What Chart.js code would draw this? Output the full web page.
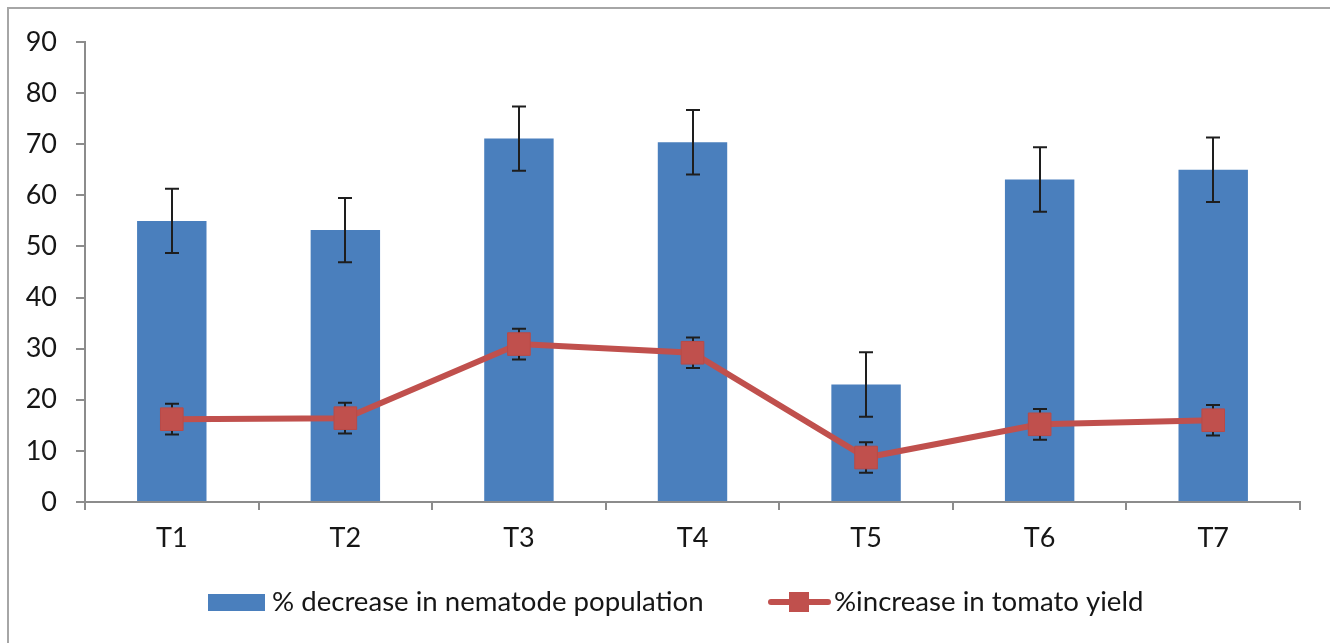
<!DOCTYPE html>
<html>
<head>
<meta charset="utf-8">
<script src="https://cdn.jsdelivr.net/npm/chart.js@4.4.1/dist/chart.umd.min.js"></script>
<style>
  html, body { margin: 0; padding: 0; background: #ffffff; }
  #wrap { position: relative; width: 1330px; height: 643px; }
</style>
</head>
<body>
<div id="wrap"><canvas id="c" width="1330" height="643"></canvas></div>
<script>
// ---- data ----
const categories = ['T1', 'T2', 'T3', 'T4', 'T5', 'T6', 'T7'];
const nematodeDecrease = [55.0, 53.2, 71.1, 70.4, 23.0, 63.1, 65.0];
const nematodeError = [6.3, 6.3, 6.3, 6.3, 6.3, 6.3, 6.3];
const yieldIncrease = [16.2, 16.4, 30.9, 29.2, 8.7, 15.2, 16.0];
const yieldError = [3.0, 3.0, 3.0, 3.0, 3.0, 3.0, 3.0];
const yTicks = [0, 10, 20, 30, 40, 50, 60, 70, 80, 90];
const seriesLabels = ['% decrease in nematode population', '%increase in tomato yield'];

const FONT = 'Lato, "Liberation Sans", sans-serif';
const AXIS_GREY = '#8C8C8C';
const BAR_BLUE = '#4A7FBD';
const LINE_RED = '#C0504D';
const TEXT = '#161616';

const errorBarPlugin = {
  id: 'errorBars',
  drawErrors(chart, dsIndex) {
    const ds = chart.data.datasets[dsIndex];
    if (!ds.errors) return;
    const meta = chart.getDatasetMeta(dsIndex);
    const y = chart.scales.y;
    const ctx = chart.ctx;
    ctx.save();
    ctx.strokeStyle = '#1E1E1E';
    ctx.lineWidth = 2;
    const cap = 7;
    meta.data.forEach((el, i) => {
      const v = ds.data[i], e = ds.errors[i];
      const x = Math.round(el.x);
      const yTop = y.getPixelForValue(v + e);
      const yBot = y.getPixelForValue(v - e);
      ctx.beginPath();
      ctx.moveTo(x, yTop); ctx.lineTo(x, yBot);
      ctx.moveTo(x - cap, yTop); ctx.lineTo(x + cap, yTop);
      ctx.moveTo(x - cap, yBot); ctx.lineTo(x + cap, yBot);
      ctx.stroke();
    });
    ctx.restore();
  },
  beforeDatasetDraw(chart, args) {
    if (chart.data.datasets[args.index].type === 'line') this.drawErrors(chart, args.index);
  },
  afterDatasetDraw(chart, args) {
    if (chart.data.datasets[args.index].type === 'bar') this.drawErrors(chart, args.index);
  }
};

const framePlugin = {
  id: 'frame',
  beforeDraw(chart) {
    const ctx = chart.ctx;
    ctx.save();
    ctx.fillStyle = '#ffffff';
    ctx.fillRect(0, 0, chart.width, chart.height);
    ctx.strokeStyle = '#A6A6A6';
    ctx.lineWidth = 2;
    ctx.strokeRect(8, 8, chart.width + 40, chart.height + 40);
    ctx.restore();
  }
};

const legendPlugin = {
  id: 'customLegend',
  afterDraw(chart) {
    const ctx = chart.ctx;
    const cy = 602;
    ctx.save();
    ctx.font = '27.6px ' + FONT;
    ctx.textBaseline = 'middle';
    ctx.textAlign = 'left';
    // bar series
    ctx.fillStyle = BAR_BLUE;
    ctx.fillRect(208, 594, 57, 17);
    ctx.fillStyle = TEXT;
    ctx.fillText(chart.data.datasets[1].label, 272, cy);
    // line series
    ctx.strokeStyle = LINE_RED;
    ctx.lineWidth = 6;
    ctx.lineCap = 'round';
    ctx.beginPath();
    ctx.moveTo(771, cy); ctx.lineTo(828, cy);
    ctx.stroke();
    ctx.fillStyle = LINE_RED;
    ctx.fillRect(789, 592, 20, 20);
    ctx.fillStyle = TEXT;
    ctx.fillText(chart.data.datasets[0].label, 834, cy);
    ctx.restore();
  }
};

new Chart(document.getElementById('c'), {
  data: {
    labels: categories,
    datasets: [
      {
        type: 'line',
        label: seriesLabels[1],
        data: yieldIncrease,
        errors: yieldError,
        borderColor: LINE_RED,
        backgroundColor: LINE_RED,
        borderWidth: 6,
        pointStyle: 'rect',
        pointRadius: 16,
        pointBackgroundColor: LINE_RED,
        pointBorderColor: '#B94A47',
        pointBorderWidth: 1,
        tension: 0,
        order: 0
      },
      {
        type: 'bar',
        label: seriesLabels[0],
        data: nematodeDecrease,
        errors: nematodeError,
        backgroundColor: BAR_BLUE,
        borderWidth: 0,
        categoryPercentage: 1.0,
        barPercentage: 0.4,
        order: 1
      }
    ]
  },
  options: {
    responsive: false,
    animation: false,
    events: [],
    layout: { padding: { left: 0, top: 42, right: 30, bottom: 0 } },
    plugins: {
      legend: { display: false },
      tooltip: { enabled: false },
      title: { display: false }
    },
    scales: {
      x: {
        afterFit(scale) { scale.height = 141; },
        grid: { drawOnChartArea: false, color: AXIS_GREY, lineWidth: 2, tickLength: 8, offset: true },
        border: { color: AXIS_GREY, width: 2 },
        ticks: { color: TEXT, font: { family: FONT, size: 27 }, padding: 12 }
      },
      y: {
        min: 0,
        max: 90,
        afterFit(scale) { scale.width = 85; },
        afterBuildTicks(scale) { scale.ticks = yTicks.map(v => ({ value: v })); },
        grid: { drawOnChartArea: false, color: AXIS_GREY, lineWidth: 2, tickLength: 9 },
        border: { color: AXIS_GREY, width: 2 },
        ticks: { color: TEXT, font: { family: FONT, size: 27 }, padding: 19 }
      }
    }
  },
  plugins: [framePlugin, errorBarPlugin, legendPlugin]
});
</script>
</body>
</html>
